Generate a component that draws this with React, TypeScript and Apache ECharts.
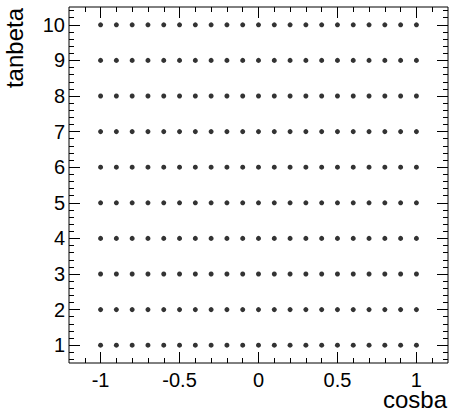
import React, { useEffect, useRef } from "react";
import * as echarts from "echarts";

// Data
const cosbaValues = [-1, -0.9, -0.8, -0.7, -0.6, -0.5, -0.4, -0.3, -0.2, -0.1, 0, 0.1, 0.2, 0.3, 0.4, 0.5, 0.6, 0.7, 0.8, 0.9, 1];
const tanbetaValues = [1, 2, 3, 4, 5, 6, 7, 8, 9, 10];

// Axis ticks
const xRange = [-1.2, 1.2];
const yRange = [0.5, 10.5];
const xMajorTicks = [-1, -0.5, 0, 0.5, 1];
const yMajorTicks = [1, 2, 3, 4, 5, 6, 7, 8, 9, 10];
const xMinorStep = 0.1;
const yMinorStep = 0.2;

function minorTicks(lo: number, hi: number, step: number, majors: number[]) {
  const out: number[] = [];
  const start = Math.ceil(lo / step - 1e-9);
  const end = Math.floor(hi / step + 1e-9);
  for (let k = start; k <= end; k++) {
    const v = Math.round(k * step * 100) / 100;
    if (v > lo && v < hi && majors.indexOf(v) < 0) out.push(v);
  }
  return out;
}

const xMinorTicks = minorTicks(xRange[0], xRange[1], xMinorStep, xMajorTicks);
const yMinorTicks = minorTicks(yRange[0], yRange[1], yMinorStep, yMajorTicks);

const FONT = "'Liberation Sans', Arial, Helvetica, sans-serif";

export default function App() {
  const ref = useRef<HTMLDivElement>(null);
  useEffect(() => {
    if (!ref.current) return;
    const chart = echarts.init(ref.current, undefined, { renderer: "svg" });
    const points: number[][] = [];
    tanbetaValues.forEach((y) => cosbaValues.forEach((x) => points.push([x, y])));

    const mkX = (position: string, ticks: number[], len: number, labels: boolean) => ({
      type: "value",
      position,
      min: xRange[0],
      max: xRange[1],
      axisLine: { show: false, onZero: false },
      splitLine: { show: false },
      axisTick: { show: true, inside: true, length: len, customValues: ticks, lineStyle: { color: "#000", width: 1 } },
      axisLabel: labels
        ? { show: true, customValues: ticks, fontSize: 20, lineHeight: 16, color: "#000", fontFamily: FONT, margin: 9 }
        : { show: false },
    });
    const mkY = (position: string, ticks: number[], len: number, labels: boolean) => ({
      type: "value",
      position,
      min: yRange[0],
      max: yRange[1],
      axisLine: { show: false, onZero: false },
      splitLine: { show: false },
      axisTick: { show: true, inside: true, length: len, customValues: ticks, lineStyle: { color: "#000", width: 1 } },
      axisLabel: labels
        ? { show: true, customValues: ticks, fontSize: 20, color: "#000", fontFamily: FONT, margin: 4 }
        : { show: false },
    });

    chart.setOption({
      animation: false,
      backgroundColor: "#fff",
      grid: {
        left: 69,
        top: 7,
        width: 379,
        height: 356,
        show: true,
        borderColor: "#000",
        borderWidth: 1,
        backgroundColor: "transparent",
        containLabel: false,
      },
      xAxis: [
        mkX("bottom", xMajorTicks, 11, true),
        mkX("bottom", xMinorTicks, 5, false),
        mkX("top", xMajorTicks, 11, false),
        mkX("top", xMinorTicks, 5, false),
      ],
      yAxis: [
        mkY("left", yMajorTicks, 11, true),
        mkY("left", yMinorTicks, 5, false),
        mkY("right", yMajorTicks, 11, false),
        mkY("right", yMinorTicks, 5, false),
      ],
      graphic: [
        {
          type: "text",
          x: 447,
          y: 399,
          style: { text: "cosba", fontSize: 24, lineHeight: 19, fontFamily: FONT, fill: "#000", align: "right", verticalAlign: "middle" },
        },
        {
          type: "text",
          x: 14,
          y: 8,
          rotation: Math.PI / 2,
          style: { text: "tanbeta", fontSize: 24, fontFamily: FONT, fill: "#000", align: "right", verticalAlign: "middle" },
        },
      ],
      series: [
        {
          type: "scatter",
          xAxisIndex: 0,
          yAxisIndex: 0,
          symbol: "circle",
          symbolSize: 5,
          itemStyle: { color: "#000" },
          data: points,
        },
      ],
    });
    return () => chart.dispose();
  }, []);
  return <div ref={ref} style={{ position: "absolute", left: 0, top: 0, width: 449, height: 411 }} />;
}
